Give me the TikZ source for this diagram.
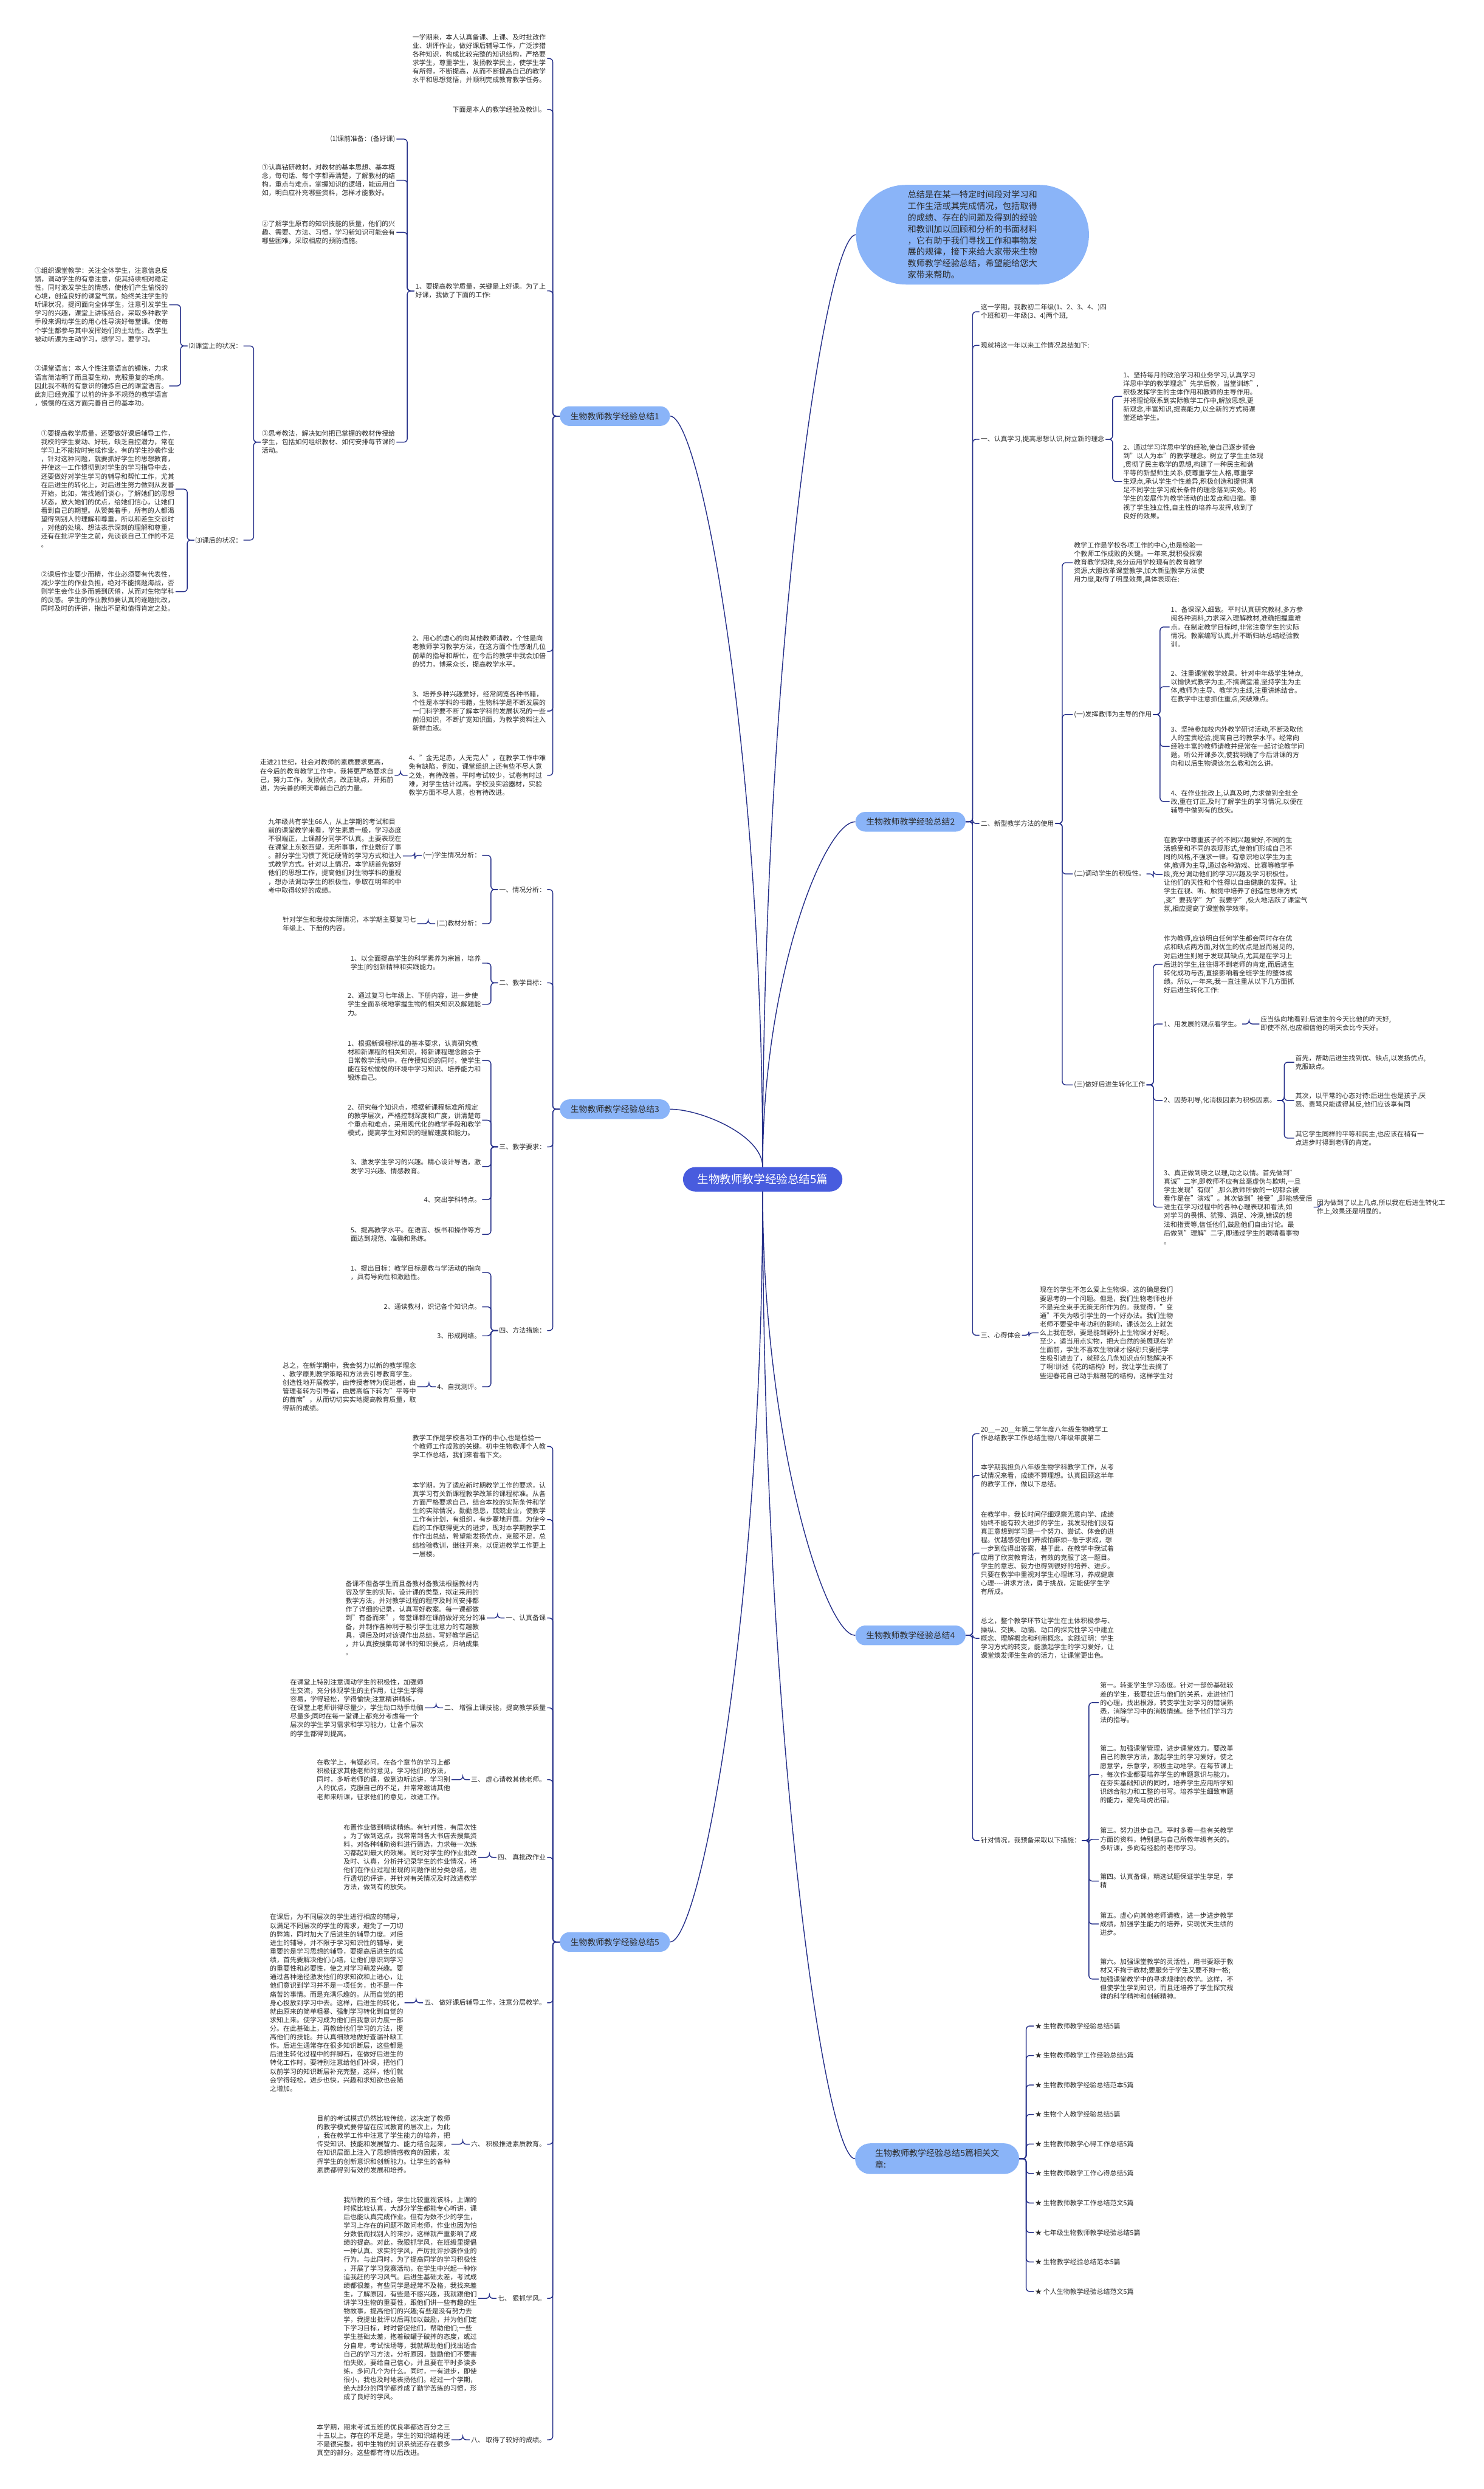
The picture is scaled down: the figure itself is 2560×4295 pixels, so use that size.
\documentclass[tikz,border=0pt]{standalone}
\usepackage{fontspec}
\setmainfont{Noto Sans CJK SC}
\usetikzlibrary{calc}

\definecolor{linkblue}{RGB}{38,48,138}
\definecolor{rootblue}{RGB}{72,92,222}
\definecolor{topicblue}{RGB}{138,180,248}
\definecolor{txtgray}{RGB}{45,45,45}

\tikzset{
  txt/.style={font=\fontsize{11.5}{14.8}\selectfont, align=left, inner xsep=2pt, inner ysep=1pt, text=txtgray},
  txtL/.style={txt, anchor=east},
  txtR/.style={txt, anchor=west},
  root/.style={fill=rootblue, text=white, rounded corners=21, minimum width=275, minimum height=42, inner sep=0pt, font=\fontsize{19.5}{22}\selectfont},
  topic/.style={fill=topicblue, text=txtgray, rounded corners=17, minimum width=190, minimum height=34, inner sep=0pt, font=\fontsize{14.5}{17}\selectfont},
  trunkline/.style={draw=linkblue, line width=1.5pt},
  branchline/.style={draw=linkblue, line width=1.5pt, rounded corners=6}
}
\newcommand\linkL[2]{\draw[branchline] (#1.west) -- ++(-12,0) |- (#2.east);}
\newcommand\linkR[2]{\draw[branchline] (#1.east) -- ++(12,0) |- (#2.west);}
\newcommand\trunkL[2]{\draw[trunkline] (#1) .. controls ($(#1)!0.55!(#1|-#2)$) and ($(#2)+(53,0)$) .. (#2);}
\newcommand\trunkR[2]{\draw[trunkline] (#1) .. controls ($(#1)!0.55!(#1|-#2)$) and ($(#2)+(-53,0)$) .. (#2);}

\begin{document}
\begin{tikzpicture}[x=1pt, y=-1pt]
  \fill[white] (0,0) rectangle (2560,4295);
  \useasboundingbox (0,0) rectangle (2560,4295);

  \node[root] (root) at (1316,2035) {生物教师教学经验总结5篇};
  \node[topic] (b1) at (1061,718) {生物教师教学经验总结1};
  \node[topic] (b2) at (1571,1418) {生物教师教学经验总结2};
  \node[topic] (b3) at (1061,1914) {生物教师教学经验总结3};
  \node[topic] (b4) at (1571,2822) {生物教师教学经验总结4};
  \node[topic] (b5) at (1061,3351) {生物教师教学经验总结5};
  \node[fill=topicblue, text=txtgray, rounded corners=86, minimum width=402, minimum height=172, align=left, font=\fontsize{14.9}{19.7}\selectfont] (summ) at (1678,405) {总结是在某一特定时间段对学习和\\工作生活或其完成情况，包括取得\\的成绩、存在的问题及得到的经验\\和教训加以回顾和分析的书面材料\\，它有助于我们寻找工作和事物发\\展的规律，接下来给大家带来生物\\教师教学经验总结，希望能给您大\\家带来帮助。};
  \node[fill=topicblue, text=txtgray, rounded corners=26, minimum width=283, minimum height=53, align=left, font=\fontsize{14.7}{20}\selectfont] (rel) at (1617,3725) {生物教师教学经验总结5篇相关文\\章:};

  \trunkR{root.north}{summ.west}
  \trunkL{root.north}{b1.east}
  \trunkR{root.north}{b2.west}
  \trunkL{root.north}{b3.east}
  \trunkR{root.south}{b4.west}
  \trunkL{root.south}{b5.east}
  \trunkR{root.south}{rel.west}

  % 总结1
  \node[txtL] (b1a) at (944,101) {一学期来，本人认真备课、上课、及时批改作\\业、讲评作业，做好课后辅导工作，广泛涉猎\\各种知识，构成比较完整的知识结构，严格要\\求学生，尊重学生，发扬教学民主，使学生学\\有所得，不断提高，从而不断提高自己的教学\\水平和思想觉悟，并顺利完成教育教学任务。};
  \node[txtL] (b1b) at (944,189) {下面是本人的教学经验及教训。};
  \node[txtL] (b1c) at (944,502) {1、要提高教学质量，关键是上好课。为了上\\好课，我做了下面的工作:};
  \node[txtL] (b1c1) at (684,240) {⑴课前准备：(备好课)};
  \node[txtL] (b1c2) at (684,311) {①认真钻研教材，对教材的基本思想、基本概\\念，每句话、每个字都弄清楚，了解教材的结\\构，重点与难点，掌握知识的逻辑，能运用自\\如，明白应补充哪些资料，怎样才能教好。};
  \node[txtL] (b1c3) at (684,401) {②了解学生原有的知识技能的质量，他们的兴\\趣、需要、方法、习惯，学习新知识可能会有\\哪些困难，采取相应的预防措施。};
  \node[txtL] (b1c4) at (684,763) {③思考教法，解决如何把已掌握的教材传授给\\学生，包括如何组织教材、如何安排每节课的\\活动。};
  \node[txtL] (b1c41) at (420,597) {⑵课堂上的状况：};
  \node[txtL] (b1c411) at (292,526) {①组织课堂教学：关注全体学生，注意信息反\\馈，调动学生的有意注意，使其持续相对稳定\\性，同时激发学生的情感，使他们产生愉悦的\\心境，创造良好的课堂气氛。始终关注学生的\\听课状况，提问面向全体学生，注意引发学生\\学习的兴趣，课堂上讲练结合，采取多种教学\\手段来调动学生的用心性导演好每堂课。使每\\个学生都参与其中发挥她们的主动性。改学生\\被动听课为主动学习，想学习，要学习。};
  \node[txtL] (b1c412) at (292,666) {②课堂语言：本人个性注意语言的锤炼，力求\\语言简洁明了而且要生动，克服重复的毛病。\\因此我不断的有意识的锤炼自己的课堂语言。\\此刻已经克服了以前的许多不规范的教学语言\\，慢慢的在这方面完善自己的基本功。};
  \node[txtL] (b1c42) at (420,932) {⑶课后的状况：};
  \node[txtL] (b1c421) at (303,844) {①要提高教学质量，还要做好课后辅导工作，\\我校的学生爱动、好玩，缺乏自控潜力，常在\\学习上不能按时完成作业，有的学生抄袭作业\\，针对这种问题，就要抓好学生的思想教育，\\并使这一工作惯彻到对学生的学习指导中去，\\还要做好对学生学习的辅导和帮忙工作，尤其\\在后进生的转化上，对后进生努力做到从友善\\开始，比如，常找她们谈心，了解她们的思想\\状态，放大她们的优点，给她们信心，让她们\\看到自己的期望。从赞美着手，所有的人都渴\\望得到别人的理解和尊重，所以和差生交谈时\\，对他的处境、想法表示深刻的理解和尊重，\\还有在批评学生之前，先谈谈自己工作的不足\\。};
  \node[txtL] (b1c422) at (303,1021) {②课后作业要少而精，作业必须要有代表性，\\减少学生的作业负担，绝对不能搞题海战，否\\则学生会作业多而感到厌倦，从而对生物学科\\的反感。学生的作业教师要认真的逐题批改，\\同时及时的评讲，指出不足和值得肯定之处。};
  \node[txtL] (b1d) at (944,1124) {2、用心的虚心的向其他教师请教，个性是向\\老教师学习教学方法，在这方面个性感谢几位\\前辈的指导和帮忙，在今后的教学中我会加倍\\的努力，博采众长，提高教学水平。};
  \node[txtL] (b1e) at (944,1227) {3、培养多种兴趣爱好，经常阅览各种书籍，\\个性是本学科的书籍，生物科学是不断发展的\\一门科学要不断了解本学科的发展状况的一些\\前沿知识，不断扩宽知识面，为教学资料注入\\新鲜血液。};
  \node[txtL] (b1f) at (944,1338) {4、"金无足赤，人无完人"，在教学工作中难\\免有缺陷，例如，课堂组织上还有些不尽人意\\之处，有待改善。平时考试较少，试卷有时过\\难，对学生估计过高。学校没实验器材，实验\\教学方面不尽人意，也有待改进。};
  \node[txtL] (b1f1) at (681,1338) {走进21世纪，社会对教师的素质要求更高，\\在今后的教育教学工作中，我将更严格要求自\\己，努力工作，发扬优点，改正缺点，开拓前\\进，为完善的明天奉献自己的力量。};
  \foreach \c in {b1a,b1b,b1c,b1d,b1e,b1f} {\linkL{b1}{\c}}
  \foreach \c in {b1c1,b1c2,b1c3,b1c4} {\linkL{b1c}{\c}}
  \linkL{b1c4}{b1c41}
  \linkL{b1c4}{b1c42}
  \linkL{b1c41}{b1c411}
  \linkL{b1c41}{b1c412}
  \linkL{b1c42}{b1c421}
  \linkL{b1c42}{b1c422}
  \linkL{b1f}{b1f1}

  % 总结3
  \node[txtL] (b3a) at (944,1535) {一、情况分析：};
  \node[txtL] (b3a1) at (832,1476) {(一)学生情况分析：};
  \node[txtL] (b3a11) at (695,1477) {九年级共有学生66人，从上学期的考试和目\\前的课堂教学来看，学生素质一般，学习态度\\不很端正，上课部分同学不认真。主要表现在\\在课堂上东张西望，无所事事，作业敷衍了事\\。部分学生习惯了死记硬背的学习方式和注入\\式教学方式。针对以上情况，本学期首先做好\\他们的思想工作，提高他们对生物学科的重视\\，想办法调动学生的积极性，争取在明年的中\\考中取得较好的成绩。};
  \node[txtL] (b3a2) at (832,1594) {(二)教材分析：};
  \node[txtL] (b3a21) at (720,1594) {针对学生和我校实际情况，本学期主要复习七\\年级上、下册的内容。};
  \node[txtL] (b3b) at (944,1696) {二、教学目标：};
  \node[txtL] (b3b1) at (832,1662) {1、以全面提高学生的科学素养为宗旨，培养\\学生[的创新精神和实践能力。};
  \node[txtL] (b3b2) at (832,1733) {2、通过复习七年级上、下册内容，进一步使\\学生全面系统地掌握生物的相关知识及解题能\\力。};
  \node[txtL] (b3c) at (944,1979) {三、教学要求：};
  \node[txtL] (b3c1) at (832,1830) {1、根据新课程标准的基本要求，认真研究教\\材和新课程的相关知识，将新课程理念融会于\\日常教学活动中，在传授知识的同时，使学生\\能在轻松愉悦的环境中学习知识、培养能力和\\锻炼自己。};
  \node[txtL] (b3c2) at (832,1933) {2、研究每个知识点，根据新课程标准所规定\\的教学层次，严格控制深度和广度，讲清楚每\\个重点和难点，采用现代化的教学手段和教学\\模式，提高学生对知识的理解速度和能力。};
  \node[txtL] (b3c3) at (832,2013) {3、激发学生学习的兴趣。精心设计导语，激\\发学习兴趣、情感教育。};
  \node[txtL] (b3c4) at (832,2070) {4、突出学科特点。};
  \node[txtL] (b3c5) at (832,2130) {5、提高教学水平。在语言、板书和操作等方\\面达到规范、准确和熟练。};
  \node[txtL] (b3d) at (944,2296) {四、方法措施：};
  \node[txtL] (b3d1) at (832,2196) {1、提出目标：教学目标是教与学活动的指向\\，具有导向性和激励性。};
  \node[txtL] (b3d2) at (832,2255) {2、通读教材，识记各个知识点。};
  \node[txtL] (b3d3) at (832,2305) {3、形成网络。};
  \node[txtL] (b3d4) at (832,2393) {4、自我测评。};
  \node[txtL] (b3d41) at (720,2393) {总之，在新学期中，我会努力以新的教学理念\\、教学原则教学策略和方法去引导教育学生。\\创造性地开展教学，由传授者转为促进者，由\\管理者转为引导者，由居高临下转为"平等中\\的首席"，从而切切实实地提高教育质量，取\\得新的成绩。};
  \foreach \c in {b3a,b3b,b3c,b3d} {\linkL{b3}{\c}}
  \linkL{b3a}{b3a1}
  \linkL{b3a}{b3a2}
  \linkL{b3a1}{b3a11}
  \linkL{b3a2}{b3a21}
  \linkL{b3b}{b3b1}
  \linkL{b3b}{b3b2}
  \foreach \c in {b3c1,b3c2,b3c3,b3c4,b3c5} {\linkL{b3c}{\c}}
  \foreach \c in {b3d1,b3d2,b3d3,b3d4} {\linkL{b3d}{\c}}
  \linkL{b3d4}{b3d41}

  % 总结5
  \node[txtL] (b5a) at (944,2496) {教学工作是学校各项工作的中心,也是检验一\\个教师工作成败的关键。初中生物教师个人教\\学工作总结，我们来看看下文。};
  \node[txtL] (b5b) at (944,2622) {本学期，为了适应新时期教学工作的要求，认\\真学习有关新课程教学改革的课程标准。从各\\方面严格要求自己，结合本校的实际条件和学\\生的实际情况，勤勤恳恳，兢兢业业，使教学\\工作有计划，有组织，有步骤地开展。为使今\\后的工作取得更大的进步，现对本学期教学工\\作作出总结，希望能发扬优点，克服不足，总\\结检验教训，继往开来，以促进教学工作更上\\一层楼。};
  \node[txtL] (b5c) at (944,2792) {一、认真备课};
  \node[txtL] (b5c1) at (840,2792) {备课不但备学生而且备教材备教法根据教材内\\容及学生的实际，设计课的类型，拟定采用的\\教学方法，并对教学过程的程序及时间安排都\\作了详细的记录，认真写好教案。每一课都做\\到"有备而来"，每堂课都在课前做好充分的准\\备，并制作各种利于吸引学生注意力的有趣教\\具，课后及时对该课作出总结，写好教学后记\\，并认真按搜集每课书的知识要点，归纳成集\\。};
  \node[txtL] (b5d) at (944,2947) {二、 增强上课技能，提高教学质量};
  \node[txtL] (b5d1) at (733,2947) {在课堂上特别注意调动学生的积极性，加强师\\生交流，充分体现学生的主作用，让学生学得\\容易，学得轻松，学得愉快;注意精讲精练，\\在课堂上老师讲得尽量少，学生动口动手动脑\\尽量多;同时在每一堂课上都充分考虑每一个\\层次的学生学习需求和学习能力，让各个层次\\的学生都得到提高。};
  \node[txtL] (b5e) at (944,3071) {三、 虚心请教其他老师。};
  \node[txtL] (b5e1) at (779,3071) {在教学上，有疑必问。在各个章节的学习上都\\积极征求其他老师的意见，学习他们的方法，\\同时，多听老师的课，做到边听边讲，学习别\\人的优点，克服自己的不足，并常常邀请其他\\老师来听课，征求他们的意见，改进工作。};
  \node[txtL] (b5f) at (944,3205) {四、 真批改作业};
  \node[txtL] (b5f1) at (825,3205) {布置作业做到精读精练。有针对性，有层次性\\。为了做到这点，我常常到各大书店去搜集资\\料，对各种辅助资料进行筛选，力求每一次练\\习都起到最大的效果。同时对学生的作业批改\\及时、认真，分析并记录学生的作业情况，将\\他们在作业过程出现的问题作出分类总结，进\\行透切的评讲，并针对有关情况及时改进教学\\方法，做到有的放矢。};
  \node[txtL] (b5g) at (944,3456) {五、 做好课后辅导工作，注意分层教学。};
  \node[txtL] (b5g1) at (698,3456) {在课后，为不同层次的学生进行相应的辅导，\\以满足不同层次的学生的需求，避免了一刀切\\的弊端，同时加大了后进生的辅导力度。对后\\进生的辅导，并不限于学习知识性的辅导，更\\重要的是学习思想的辅导，要提高后进生的成\\绩，首先要解决他们心结，让他们意识到学习\\的重要性和必要性，使之对学习萌发兴趣。要\\通过各种途径激发他们的求知欲和上进心，让\\他们意识到学习并不是一项任务，也不是一件\\痛苦的事情。而是充满乐趣的。从而自觉的把\\身心投放到学习中去。这样，后进生的转化，\\就由原来的简单粗暴、强制学习转化到自觉的\\求知上来。使学习成为他们自我意识力度一部\\分。在此基础上，再教给他们学习的方法，提\\高他们的技能。并认真细致地做好查漏补缺工\\作。后进生通常存在很多知识断层，这些都是\\后进生转化过程中的拌脚石，在做好后进生的\\转化工作时，要特别注意给他们补课，把他们\\以前学习的知识断层补充完整，这样，他们就\\会学得轻松，进步也快，兴趣和求知欲也会随\\之增加。};
  \node[txtL] (b5h) at (944,3700) {六、 积极推进素质教育。};
  \node[txtL] (b5h1) at (779,3700) {目前的考试模式仍然比较传统，这决定了教师\\的教学模式要停留在应试教育的层次上，为此\\，我在教学工作中注意了学生能力的培养，把\\传受知识、技能和发展智力、能力结合起来，\\在知识层面上注入了思想情感教育的因素，发\\挥学生的创新意识和创新能力。让学生的各种\\素质都得到有效的发展和培养。};
  \node[txtL] (b5i) at (944,3966) {七、 狠抓学风。};
  \node[txtL] (b5i1) at (825,3966) {我所教的五个班，学生比较重视该科，上课的\\时候比较认真，大部分学生都能专心听讲，课\\后也能认真完成作业。但有为数不少的学生，\\学习上存在的问题不敢问老师，作业也因为怕\\分数低而找别人的来抄，这样就严重影响了成\\绩的提高。对此，我狠抓学风，在班级里提倡\\一种认真、求实的学风，严厉批评抄袭作业的\\行为。与此同时，为了提高同学的学习积极性\\，开展了学习竞赛活动，在学生中兴起一种你\\追我赶的学习风气。后进生基础太差，考试成\\绩都很差，有些同学是经常不及格，我找来差\\生，了解原因，有些是不感兴趣，我就跟他们\\讲学习生物的重要性，跟他们讲一些有趣的生\\物故事，提高他们的兴趣;有些是没有努力去\\学，我提出批评以后再加以鼓励，并为他们定\\下学习目标，时时督促他们，帮助他们;一些\\学生基础太差，抱着破罐子破摔的态度，或过\\分自卑，考试怯场等，我就帮助他们找出适合\\自己的学习方法，分析原因，鼓励他们不要害\\怕失败，要给自己信心，并且要在平时多读多\\练，多问几个为什么。同时，一有进步，即使\\很小，我也及时地表扬他们。经过一个学期，\\绝大部分的同学都养成了勤学苦练的习惯，形\\成了良好的学风。};
  \node[txtL] (b5j) at (944,4210) {八、 取得了较好的成绩。};
  \node[txtL] (b5j1) at (779,4210) {本学期，期末考试五班的优良率都达百分之三\\十五以上。存在的不足是，学生的知识结构还\\不是很完整，初中生物的知识系统还存在很多\\真空的部分。这些都有待以后改进。};
  \foreach \c in {b5a,b5b,b5c,b5d,b5e,b5f,b5g,b5h,b5i,b5j} {\linkL{b5}{\c}}
  \foreach \p in {b5c,b5d,b5e,b5f,b5g,b5h,b5i,b5j} {\linkL{\p}{\p1}}

  % 总结2
  \node[txtR] (b2a) at (1690,538) {这一学期，我教初二年级(1、2、3、4、)四\\个班和初一年级(3、4)两个班,};
  \node[txtR] (b2b) at (1690,596) {现就将这一年以来工作情况总结如下:};
  \node[txtR] (b2c) at (1690,758) {一、认真学习,提高思想认识,树立新的理念};
  \node[txtR] (b2c1) at (1936,684) {1、坚持每月的政治学习和业务学习,认真学习\\洋思中学的教学理念"先学后教，当堂训练",\\积极发挥学生的主体作用和教师的主导作用。\\并将理论联系到实际教学工作中,解放思想,更\\新观念,丰富知识,提高能力,以全新的方式将课\\堂还给学生。};
  \node[txtR] (b2c2) at (1936,831) {2、通过学习洋思中学的经验,使自己逐步领会\\到"以人为本"的教学理念。树立了学生主体观\\,贯彻了民主教学的思想,构建了一种民主和谐\\平等的新型师生关系,使尊重学生人格,尊重学\\生观点,承认学生个性差异,积极创造和提供满\\足不同学生学习成长条件的理念落到实处。将\\学生的发展作为教学活动的出发点和归宿。重\\视了学生独立性,自主性的培养与发挥,收到了\\良好的效果。};
  \node[txtR] (b2d) at (1690,1421) {二、新型教学方法的使用};
  \node[txtR] (b2d1) at (1851,971) {教学工作是学校各项工作的中心,也是检验一\\个教师工作成败的关键。一年来,我积极探索\\教育教学规律,充分运用学校现有的教育教学\\资源,大胆改革课堂教学,加大新型教学方法使\\用力度,取得了明显效果,具体表现在:};
  \node[txtR] (b2d2) at (1851,1233) {(一)发挥教师为主导的作用};
  \node[txtR] (b2d21) at (2018,1082) {1、备课深入细致。平时认真研究教材,多方参\\阅各种资料,力求深入理解教材,准确把握重难\\点。在制定教学目标时,非常注意学生的实际\\情况。教案编写认真,并不断归纳总结经验教\\训。};
  \node[txtR] (b2d22) at (2018,1185) {2、注重课堂教学效果。针对中年级学生特点,\\以愉快式教学为主,不搞满堂灌,坚持学生为主\\体,教师为主导、教学为主线,注重讲练结合。\\在教学中注意抓住重点,突破难点。};
  \node[txtR] (b2d23) at (2018,1288) {3、坚持参加校内外教学研讨活动,不断汲取他\\人的宝贵经验,提高自己的教学水平。经常向\\经验丰富的教师请教并经常在一起讨论教学问\\题。听公开课多次,使我明确了今后讲课的方\\向和以后生物课该怎么教和怎么讲。};
  \node[txtR] (b2d24) at (2018,1383) {4、在作业批改上,认真及时,力求做到全批全\\改,重在订正,及时了解学生的学习情况,以便在\\辅导中做到有的放矢。};
  \node[txtR] (b2d3) at (1851,1508) {(二)调动学生的积极性。};
  \node[txtR] (b2d31) at (2006,1509) {在教学中尊重孩子的不同兴趣爱好,不同的生\\活感受和不同的表现形式,使他们形成自己不\\同的风格,不强求一律。有意识地以学生为主\\体,教师为主导,通过各种游戏、比赛等教学手\\段,充分调动他们的学习兴趣及学习积极性。\\让他们的天性和个性得以自由健康的发挥。让\\学生在视、听、触觉中培养了创造性思维方式\\,变"要我学"为"我要学",极大地活跃了课堂气\\氛,相应提高了课堂教学效率。};
  \node[txtR] (b2d4) at (1851,1872) {(三)做好后进生转化工作};
  \node[txtR] (b2d41) at (2006,1664) {作为教师,应该明白任何学生都会同时存在优\\点和缺点两方面,对优生的优点是显而易见的,\\对后进生则易于发现其缺点,尤其是在学习上\\后进的学生,往往得不到老师的肯定,而后进生\\转化成功与否,直接影响着全班学生的整体成\\绩。所以,一年来,我一直注重从以下几方面抓\\好后进生转化工作:};
  \node[txtR] (b2d42) at (2006,1767) {1、用发展的观点看学生。};
  \node[txtR] (b2d421) at (2173,1767) {应当纵向地看到:后进生的今天比他的昨天好,\\即使不然,也应相信他的明天会比今天好。};
  \node[txtR] (b2d43) at (2006,1899) {2、因势利导,化消极因素为积极因素。};
  \node[txtR] (b2d431) at (2233,1833) {首先，帮助后进生找到优、缺点,以发扬优点,\\克服缺点。};
  \node[txtR] (b2d432) at (2233,1899) {其次，以平常的心态对待:后进生也是孩子,厌\\恶、责骂只能适得其反,他们应该享有同};
  \node[txtR] (b2d433) at (2233,1964) {其它学生同样的平等和民主,也应该在稍有一\\点进步时得到老师的肯定。};
  \node[txtR] (b2d44) at (2006,2083) {3、真正做到晓之以理,动之以情。首先做到"\\真诚"二字,即教师不应有丝毫虚伪与欺哄,一旦\\学生发现"有假",那么教师所做的一切都会被\\看作是在"演戏"。其次做到"接受",即能感受后\\进生在学习过程中的各种心理表现和看法,如\\对学习的畏惧、犹豫、满足、冷漠,错误的想\\法和指责等,信任他们,鼓励他们自由讨论。最\\后做到"理解"二字,即通过学生的眼睛看事物\\。};
  \node[txtR] (b2d441) at (2270,2083) {因为做到了以上几点,所以我在后进生转化工\\作上,效果还是明显的。};
  \node[txtR] (b2e) at (1690,2304) {三、心得体会};
  \node[txtR] (b2e1) at (1792,2300) {现在的学生不怎么爱上生物课。这的确是我们\\要思考的一个问题。但是，我们生物老师也并\\不是完全束手无策无所作为的。我觉得，"变\\通"不失为吸引学生的一个好办法。我们生物\\老师不要受中考功利的影响，课该怎么上就怎\\么上我在想，要是能到野外上生物课才好呢。\\至少，适当用点实物，把大自然的美展现在学\\生面前，学生不喜欢生物课才怪呢!只要把学\\生吸引进去了，就那么几条知识点何愁解决不\\了啊!讲述《花的结构》时，我让学生去摘了\\些迎春花自己动手解剖花的结构，这样学生对};
  \foreach \c in {b2a,b2b,b2c,b2d,b2e} {\linkR{b2}{\c}}
  \linkR{b2c}{b2c1}
  \linkR{b2c}{b2c2}
  \foreach \c in {b2d1,b2d2,b2d3,b2d4} {\linkR{b2d}{\c}}
  \foreach \c in {b2d21,b2d22,b2d23,b2d24} {\linkR{b2d2}{\c}}
  \linkR{b2d3}{b2d31}
  \foreach \c in {b2d41,b2d42,b2d43,b2d44} {\linkR{b2d4}{\c}}
  \linkR{b2d42}{b2d421}
  \foreach \c in {b2d431,b2d432,b2d433} {\linkR{b2d43}{\c}}
  \linkR{b2d44}{b2d441}
  \linkR{b2e}{b2e1}

  % 总结4
  \node[txtR] (b4a) at (1690,2474) {20＿—20＿年第二学年度八年级生物教学工\\作总结教学工作总结生物八年级年度第二};
  \node[txtR] (b4b) at (1690,2546) {本学期我担负八年级生物学科教学工作，从考\\试情况来看，成绩不算理想。认真回顾这半年\\的教学工作，做以下总结。};
  \node[txtR] (b4c) at (1690,2680) {在教学中，我长时间仔细观察无意向学、成绩\\始终不能有较大进步的学生，我发现他们没有\\真正意想到学习是一个努力、尝试、体会的进\\程。优越感使他们养成怕麻烦-{}-急于求成，想\\一步到位得出答案，基于此，在教学中我试着\\应用了欣赏教育法，有效的克服了这一题目。\\学生的意志、毅力也得到很好的培养、进步。\\只要在教学中重视对学生心理练习，养成健康\\心理-{}-{}-{}-讲求方法，勇于挑战，定能使学生学\\有所成。};
  \node[txtR] (b4d) at (1690,2827) {总之，整个教学环节让学生在主体积极参与、\\操纵、交换、动脑、动口的探究性学习中建立\\概念、理解概念和利用概念。实践证明：学生\\学习方式的转变，能激起学生的学习爱好，让\\课堂焕发师生生命的活力，让课堂更出色。};
  \node[txtR] (b4e) at (1690,3176) {针对情况，我预备采取以下措施：};
  \node[txtR] (b4e1) at (1896,2938) {第一。转变学生学习态度。针对一部份基础较\\差的学生，我要拉近与他们的关系，走进他们\\的心理，找出根源，转变学生对学习的错误熟\\悉，消除学习中的消极情绪。给予他们学习方\\法的指导。};
  \node[txtR] (b4e2) at (1896,3062) {第二。加强课堂管理，进步课堂效力。要改革\\自己的教学方法，激起学生的学习爱好，使之\\愿意学，乐意学，积极主动地学。在每节课上\\，每次作业都要培养学生的审题意识与能力。\\在夯实基础知识的同时，培养学生应用所学知\\识综合能力和工整的书写。培养学生细致审题\\的能力，避免马虎出错。};
  \node[txtR] (b4e3) at (1896,3174) {第三。努力进步自己。平时多看一些有关教学\\方面的资料，特别是与自己所教年级有关的。\\多听课，多向有经验的老师学习。};
  \node[txtR] (b4e4) at (1896,3246) {第四。认真备课，精选试题保证学生学足，学\\精};
  \node[txtR] (b4e5) at (1896,3320) {第五。虚心向其他老师请教，进一步进步教学\\成绩，加强学生能力的培养，实现优天生绩的\\进步。};
  \node[txtR] (b4e6) at (1896,3415) {第六。加强课堂教学的灵活性，用书要源于教\\材又不拘于教材;要服务于学生又要不拘一格;\\加强课堂教学中的寻求规律的教学。这样，不\\但使学生学到知识，而且还培养了学生探究规\\律的科学精神和创新精神。};
  \foreach \c in {b4a,b4b,b4c,b4d,b4e} {\linkR{b4}{\c}}
  \foreach \c in {b4e1,b4e2,b4e3,b4e4,b4e5,b4e6} {\linkR{b4e}{\c}}

  % 相关文章
  \foreach \t [count=\i] in {生物教师教学经验总结5篇,生物教师教学工作经验总结5篇,生物教师教学经验总结范本5篇,生物个人教学经验总结5篇,生物教师教学心得工作总结5篇,生物教师教学工作心得总结5篇,生物教师教学工作总结范文5篇,七年级生物教师教学经验总结5篇,生物教学经验总结范本5篇,个人生物教学经验总结范文5篇} {
    \node[txtR] (rel\i) at (1784,{3496+50.9*(\i-1)}) {★ \t};
    \linkR{rel}{rel\i}
  }
\end{tikzpicture}
\end{document}
